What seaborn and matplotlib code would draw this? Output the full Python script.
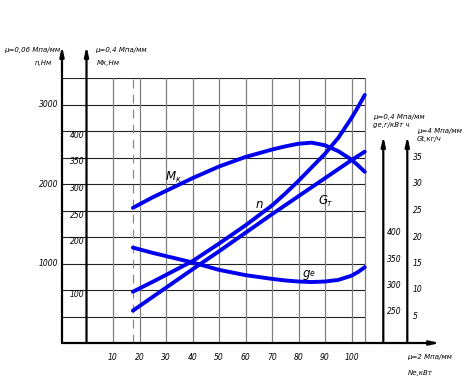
import matplotlib
matplotlib.use("Agg")
import matplotlib.pyplot as plt
import seaborn as sns

# engine characteristic, x = effective power Ne, kW
power = [17.5, 25, 40, 50, 60, 70, 75, 80, 85, 90, 95, 100, 102.5, 105]
torque = [255, 275, 311, 333, 351, 365, 371, 376, 378, 373, 362, 346, 335, 323]        # Mk, Nm
speed = [645, 770, 1030, 1250, 1480, 1730, 1880, 2040, 2210, 2380, 2580, 2830, 2970, 3120]  # n
fuel_hour = [6.1, 8.7, 13.9, 17.3, 20.8, 24.3, 26.0, 27.7, 29.4, 31.1, 32.8, 34.5, 35.3, 36.1]  # Gt, kg/h
fuel_spec = [380, 370, 352, 338, 328, 321, 318, 316, 315, 316, 319, 327, 334, 343]     # ge, g/kWh

power_ticks = [10, 20, 30, 40, 50, 60, 70, 80, 90, 100]
torque_ticks = [100, 200, 250, 300, 350, 400]
speed_ticks = [1000, 2000, 3000]
spec_ticks = [250, 300, 350, 400]
hour_ticks = [5, 10, 15, 20, 25, 30, 35]

W, H = 468, 383
GRID_RIGHT = 105
BLUE = "#0000ee"


def px_x(p):
    """pixel column -> power units"""
    return (p - 86.5) / 2.65


def px_y(p):
    """pixel row -> torque units"""
    return (343 - p) * 500 / 265


def main():
    sns.set_style("white")
    plt.rcParams["font.family"] = ["DejaVu Sans"]

    fig = plt.figure(figsize=(W / 100, H / 100), dpi=100)
    ax = fig.add_axes([62 / W, (H - 343) / H, (440 - 62) / W, (343 - 78) / H])
    xmin, xmax = px_x(62), px_x(440)

    # twin scales for the other quantities
    ax_n = ax.twinx()
    ax_g = ax.twinx()
    ax_t = ax.twinx()

    # grid
    for v in range(50, 501, 50):
        ax.plot([xmin, GRID_RIGHT], [v, v], color="#222222", lw=0.8, zorder=1)
    for v in power_ticks + [GRID_RIGHT]:
        ax.plot([v, v], [0, 500], color="#808080", lw=0.9, zorder=1)
    ax.plot([power[0], power[0]], [0, 500], color="#8a8a8a", lw=0.9,
            ls=(0, (7, 5)), zorder=1)

    # axis lines with arrows
    arrow = dict(arrowstyle="-|>,head_length=0.55,head_width=0.12", lw=1.6,
                 color="black", shrinkA=0, shrinkB=0)
    for xv, top in [(xmin, px_y(46)), (0, px_y(46)),
                    (px_x(383.3), px_y(136)), (px_x(407.3), px_y(136))]:
        ax.annotate("", xy=(xv, top), xytext=(xv, 0), arrowprops=arrow,
                    annotation_clip=False)
    ax.annotate("", xy=(xmax, 0), xytext=(xmin, 0), arrowprops=arrow,
                annotation_clip=False)

    # curves
    kw = dict(color=BLUE, lw=2.8, solid_capstyle="round",
              solid_joinstyle="round", legend=False)
    sns.lineplot(x=power, y=torque, ax=ax, **kw)
    sns.lineplot(x=power, y=speed, ax=ax_n, **kw)
    sns.lineplot(x=power, y=fuel_spec, ax=ax_g, **kw)
    sns.lineplot(x=power, y=fuel_hour, ax=ax_t, **kw)

    for a in (ax, ax_n, ax_g, ax_t):
        a.set_xlim(xmin, xmax)
        a.set_axis_off()
    ax.set_ylim(0, 500)
    ax_n.set_ylim(0, 500 * 20 / 3)
    ax_g.set_ylim(200, 700)
    ax_t.set_ylim(0, 50)

    tick = dict(fontsize=5.5, style="italic", color="black")
    for v in power_ticks:
        ax.text(v, px_y(358), str(v), ha="center", va="center", **tick)
    for v in torque_ticks:
        ax.text(px_x(84.5), v, str(v), ha="right", va="top", **tick)
    for v in speed_ticks:
        ax_n.text(px_x(58), v, str(v), ha="right", va="center", **tick)
    for v in spec_ticks:
        ax_g.text(px_x(387), v, str(v), ha="left", va="bottom", **tick)
    for v in hour_ticks:
        ax_t.text(px_x(413), v, str(v), ha="left", va="center", **tick)

    # scale captions
    cap = dict(fontsize=5, style="italic", color="black")

    def ftext(x, y, s, ha="left", **extra):
        opts = dict(cap)
        opts.update(extra)
        fig.text(x / W, 1 - y / H, s, ha=ha, va="center", **opts)

    ftext(60, 50, "μ=0,06 Мпа/мм", ha="right")
    ftext(52, 63, "n,Нм", ha="right")
    ftext(95, 50, "μ=0,4 Мпа/мм")
    ftext(97, 63, "Мк,Нм")
    ftext(373, 117, "μ=0,4 Мпа/мм")
    ftext(373, 125, "gе,г/кВт ч")
    ftext(417, 131, "μ=4 Мпа/мм")
    ftext(417, 139, "Gt,кг/ч")
    ftext(407, 357, "μ=2 Мпа/мм")
    ftext(408, 373, "Nе,кВт")

    # curve names
    name = dict(fontsize=8.5, style="italic")
    sub = dict(fontsize=5.5, style="italic")
    ftext(166, 176, "M", **name)
    ftext(176, 180, "к", **sub)
    ftext(256, 205, "n", **name)
    ftext(318, 200, "G", **name)
    ftext(326, 203, "т", **sub)
    ftext(303, 273, "g", **name)
    ftext(310, 274, "е", **sub)

    fig.savefig("out.png", dpi=100)
    plt.close(fig)


if __name__ == "__main__":
    main()
